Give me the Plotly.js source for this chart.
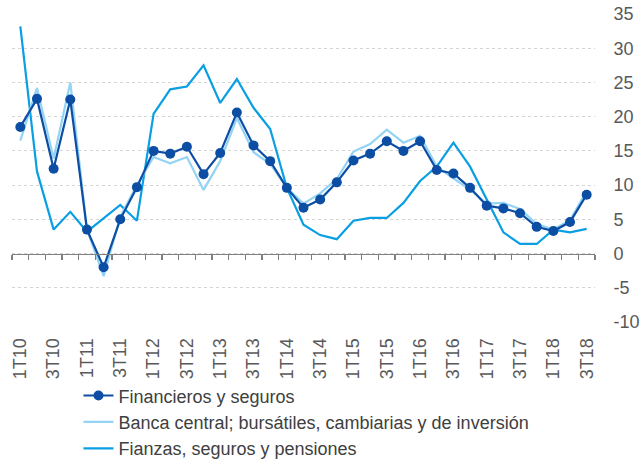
<!DOCTYPE html>
<html>
<head>
<meta charset="utf-8">
<script src="https://cdn.plot.ly/plotly-3.0.1.min.js"></script>
<style>
  html, body { margin: 0; padding: 0; background: #fff; }
  #chart { width: 640px; height: 459px; }
</style>
</head>
<body>
<div id="chart"></div>
<script>
// Quarters 1T10 .. 3T18
const quarters = [
  '1T10','2T10','3T10','4T10','1T11','2T11','3T11','4T11',
  '1T12','2T12','3T12','4T12','1T13','2T13','3T13','4T13',
  '1T14','2T14','3T14','4T14','1T15','2T15','3T15','4T15',
  '1T16','2T16','3T16','4T16','1T17','2T17','3T17','4T17',
  '1T18','2T18','3T18'
];

// Labels shown on the axis (every other quarter)
const tickLabels = quarters.filter((q, i) => i % 2 === 0);

const financieros = [
  18.5, 22.6, 12.4, 22.5, 3.5, -2.0, 5.0, 9.7,
  15.0, 14.6, 15.6, 11.6, 14.7, 20.6, 15.8, 13.5,
  9.6, 6.7, 7.9, 10.4, 13.6, 14.6, 16.4, 15.0,
  16.4, 12.2, 11.7, 9.6, 7.0, 6.6, 5.9, 3.9,
  3.3, 4.6, 8.6
];

const bancaCentral = [
  16.5, 24.2, 13.9, 25.0, 3.5, -3.3, 5.4, 10.0,
  14.1, 13.2, 14.1, 9.3, 13.5, 19.8, 14.8, 13.1,
  9.6, 7.3, 8.8, 10.9, 14.9, 16.0, 18.1, 16.2,
  17.2, 12.7, 11.0, 9.3, 7.3, 7.4, 6.5, 4.3,
  3.5, 4.9, 9.1
];

const fianzas = [
  33.2, 12.0, 3.5, 6.1, 3.2, 5.1, 7.1, 4.8,
  20.4, 24.0, 24.4, 27.5, 22.0, 25.5, 21.3, 18.2,
  9.6, 4.2, 2.7, 2.1, 4.8, 5.2, 5.2, 7.4,
  10.6, 12.7, 16.2, 12.7, 7.9, 3.1, 1.4, 1.4,
  3.5, 3.1, 3.6
];

const yTicks = [-10, -5, 0, 5, 10, 15, 20, 25, 30, 35];
const yTickText = yTicks.map(String); // plain hyphen for negatives

const fontFamily = '"Liberation Sans", Arial, sans-serif';

const traces = [
  {
    x: quarters, y: fianzas, name: 'Fianzas, seguros y pensiones',
    type: 'scatter', mode: 'lines',
    line: { color: '#0a9fe2', width: 2.2 }
  },
  {
    x: quarters, y: bancaCentral,
    name: 'Banca central; bursátiles, cambiarias y de inversión',
    type: 'scatter', mode: 'lines',
    line: { color: '#93d3f3', width: 2.2 }
  },
  {
    x: quarters, y: financieros, name: 'Financieros y seguros',
    type: 'scatter', mode: 'lines+markers',
    line: { color: '#0c4ea3', width: 2.2 },
    marker: { color: '#0c4ea3', size: 10 }
  },
  // carries the axis line at y = 0
  {
    x: quarters, y: quarters.map(() => null), xaxis: 'x2',
    type: 'scatter', mode: 'lines', showlegend: false, hoverinfo: 'skip'
  }
];

const layout = {
  width: 640,
  height: 459,
  margin: { l: 11.5, r: 45, t: 14, b: 137 },
  paper_bgcolor: '#ffffff',
  plot_bgcolor: '#ffffff',
  font: { family: fontFamily, color: '#595959', size: 18 },
  showlegend: true,
  legend: {
    xref: 'paper', yref: 'container',
    x: 0.114, y: 0.178, xanchor: 'left', yanchor: 'top',
    traceorder: 'reversed',
    itemwidth: 30,
    font: { family: fontFamily, size: 18, color: '#404040' },
    bgcolor: 'rgba(0,0,0,0)',
    tracegroupgap: 0
  },
  xaxis: {
    type: 'category',
    categoryorder: 'array',
    categoryarray: quarters,
    range: [-0.5, quarters.length - 0.5],
    tickmode: 'array',
    tickvals: tickLabels,
    ticktext: tickLabels,
    tickangle: -90,
    ticks: 'outside',
    ticklen: 8,
    tickcolor: 'rgba(0,0,0,0)',
    showgrid: false,
    showline: false,
    zeroline: false,
    tickfont: { family: fontFamily, size: 18, color: '#595959' }
  },
  xaxis2: {
    type: 'category',
    overlaying: 'x',
    anchor: 'free',
    position: 10 / 45,
    categoryorder: 'array',
    categoryarray: quarters,
    range: [-0.5, quarters.length - 0.5],
    tickson: 'boundaries',
    ticks: 'outside',
    ticklen: 5,
    tickwidth: 1.3,
    tickcolor: '#808080',
    dtick: 1,
    showticklabels: false,
    showgrid: false,
    showline: true,
    linecolor: '#808080',
    linewidth: 1.5,
    zeroline: false
  },
  yaxis: {
    side: 'right',
    range: [-10, 35],
    tickmode: 'array',
    tickvals: yTicks,
    ticktext: yTickText,
    ticks: 'outside',
    ticklen: 14,
    tickcolor: 'rgba(0,0,0,0)',
    showgrid: true,
    gridcolor: '#d4d4d4',
    griddash: 'dot',
    gridwidth: 1,
    zeroline: false,
    showline: false,
    tickfont: { family: fontFamily, size: 18, color: '#595959' }
  }
};

Plotly.newPlot('chart', traces, layout, { displayModeBar: false, staticPlot: true });
</script>
</body>
</html>
